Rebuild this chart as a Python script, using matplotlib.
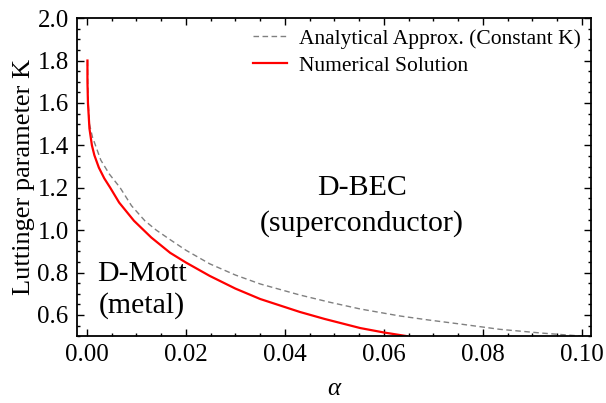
import numpy as np
import matplotlib
matplotlib.use("Agg")
from matplotlib import pyplot as plt
from matplotlib.ticker import MultipleLocator

# values
alpha_num = [0.0001, 0.0001, 0.0002, 0.0005, 0.0010, 0.0015, 0.0024, 0.0035,
             0.0047, 0.0065, 0.0095, 0.0130, 0.0168, 0.0200, 0.0248, 0.0300,
             0.0350, 0.0430, 0.0480, 0.0552, 0.0600, 0.0646]
k_num = [1.80, 1.70, 1.60, 1.48, 1.40, 1.353, 1.295, 1.244,
         1.20, 1.13, 1.044, 0.965, 0.893, 0.847, 0.784, 0.724,
         0.675, 0.614, 0.581, 0.538, 0.517, 0.500]

alpha_ana = [0.0001, 0.0002, 0.0005, 0.0011, 0.0028, 0.0045, 0.0067, 0.0090,
             0.0117, 0.0140, 0.0168, 0.0200, 0.0248, 0.0300, 0.0350, 0.0430,
             0.0490, 0.0552, 0.0632, 0.0690, 0.0754, 0.0834, 0.0920, 0.1000]
k_ana = [1.80, 1.62, 1.50, 1.44, 1.33, 1.265, 1.20, 1.115,
         1.044, 1.00, 0.955, 0.905, 0.841, 0.788, 0.746, 0.694,
         0.660, 0.628, 0.595, 0.576, 0.557, 0.532, 0.514, 0.500]

x_ticks = [0.00, 0.02, 0.04, 0.06, 0.08, 0.10]
y_ticks = [0.6, 0.8, 1.0, 1.2, 1.4, 1.6, 1.8, 2.0]

plt.rcParams['font.family'] = ['Liberation Serif', 'DejaVu Serif']

fig = plt.figure(figsize=(6.06, 4.03), dpi=100)
ax = fig.add_axes([0.127, 0.166, 0.848, 0.789])

ax.plot(alpha_ana, k_ana, '--', color='#808080', lw=1.0, dashes=(4, 2.5),
        label='Analytical Approx. (Constant K)')
ax.plot(alpha_num, k_num, '-', color='red', lw=1.6, label='Numerical Solution')

ax.set_xlim(-0.00202, 0.1018)
ax.set_ylim(0.5, 2.0)
ax.set_xticks(x_ticks)
ax.set_yticks(y_ticks)
ax.set_xticklabels(['%.2f' % v for v in x_ticks])
ax.set_yticklabels(['%.1f' % v for v in y_ticks])
ax.xaxis.set_minor_locator(MultipleLocator(0.005))
ax.yaxis.set_minor_locator(MultipleLocator(0.05))
ax.tick_params(which='both', direction='in', top=True, right=True,
               labelsize=18, width=1.0, pad=6)
ax.tick_params(which='major', length=5)
ax.tick_params(which='minor', length=2.5)
for s in ax.spines.values():
    s.set_linewidth(1.3)

ax.set_xlabel('α', fontsize=18, fontstyle='italic', labelpad=8)
ax.set_ylabel('Luttinger parameter K', fontsize=19, labelpad=2)

ax.text(0.0556, 1.20, 'D-BEC', fontsize=21.5, ha='center', va='center')
ax.text(0.0556, 1.03, '(superconductor)', fontsize=21.5, ha='center', va='center')
ax.text(0.0111, 0.794, 'D-Mott', fontsize=21.5, ha='center', va='center')
ax.text(0.0111, 0.642, '(metal)', fontsize=21.5, ha='center', va='center')

ax.legend(loc='upper right', bbox_to_anchor=(1.006, 1.008), frameon=False,
          fontsize=15.5, handlelength=1.6, handletextpad=0.55, labelspacing=0.32,
          borderaxespad=0.2)

fig.savefig('out.png', dpi=100)
